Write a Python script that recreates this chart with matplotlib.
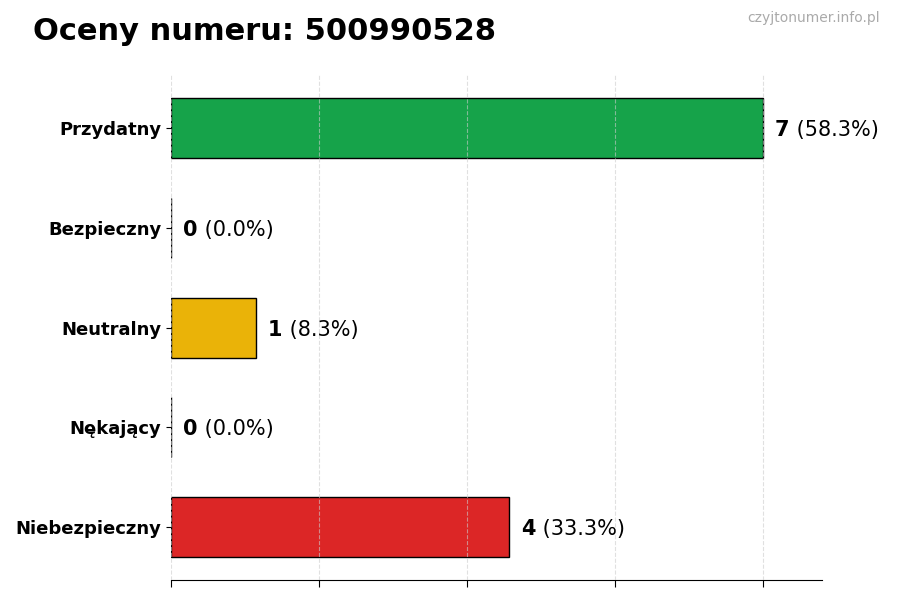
import matplotlib.pyplot as plt

categories = ['Przydatny', 'Bezpieczny', 'Neutralny', 'Nękający', 'Niebezpieczny']
counts = [7, 0, 1, 0, 4]
colors = ['#16a34a', '#9ca3af', '#eab308', '#f97316', '#dc2626']
number = '500990528'

total = sum(counts)
fig, ax = plt.subplots(figsize=(9, 6), dpi=100)
fig.subplots_adjust(left=0.19, right=0.913, top=0.875, bottom=0.033)

y = list(range(len(categories)))
ax.barh(y, counts, height=0.6, color=colors, edgecolor='black', linewidth=1)
ax.invert_yaxis()
ax.set_yticks(y)
ax.set_yticklabels(categories, fontsize=13, fontweight='bold')
ax.set_xlim(0, max(counts) * 1.1)
ax.set_xticks([max(counts) * i / 4 for i in range(5)])
ax.set_xticklabels([])
ax.tick_params(axis='x', length=5)

ax.grid(axis='x', linestyle='--', color='#cccccc', alpha=0.6, zorder=5)
ax.set_axisbelow(False)
for s in ['top', 'right', 'left']:
    ax.spines[s].set_visible(False)

for i, c in enumerate(counts):
    pct = c / total * 100
    t = ax.annotate(str(c), xy=(c, i), xytext=(9, 0), textcoords='offset points',
                    fontsize=15, fontweight='bold', va='center_baseline', ha='left')
    ax.annotate(f' ({pct:.1f}%)', xy=(1, 0.5), xycoords=t, fontsize=15,
                va='center', ha='left')

fig.text(0.037, 0.948, f'Oceny numeru: {number}', fontsize=22, fontweight='bold',
         va='center', ha='left')
fig.text(0.978, 0.97, 'czyjtonumer.info.pl', fontsize=10, color='#aaaaaa',
         va='center', ha='right')

fig.savefig('out.png', dpi=100)
